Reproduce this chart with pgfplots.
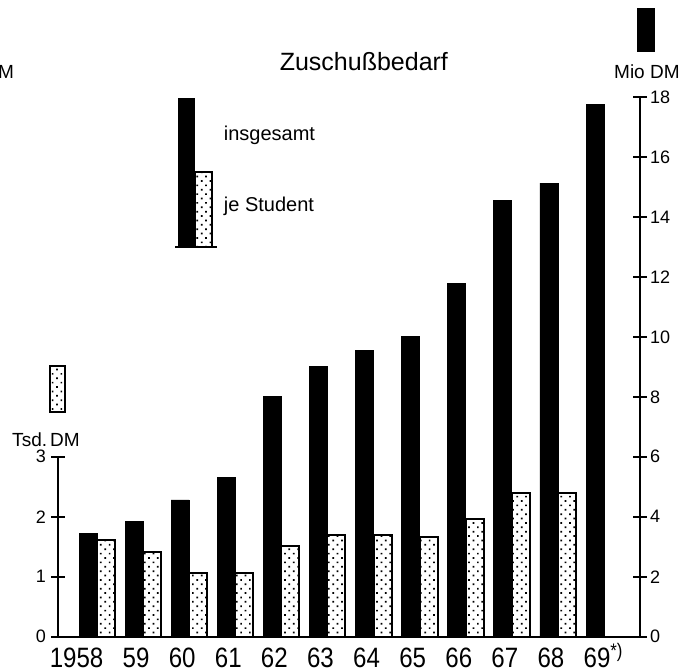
\documentclass[border=0pt]{standalone}
\usepackage{fontspec}
\setmainfont{Liberation Sans}
\newfontfamily\condfont[FakeStretch=0.86]{Liberation Sans}
\usepackage{pgfplots}
\usepackage{pgfplotstable}
\pgfplotsset{compat=1.18}
\usetikzlibrary{patterns.meta}

% Zuschussbedarf insgesamt (Mio DM)
\pgfplotstableread{
idx mio
0  3.45
1  3.84
2  4.56
3  5.32
4  8.00
5  9.02
6  9.56
7  10.01
8  11.77
9  14.55
10 15.13
11 17.75
}\insgesamt

% Zuschussbedarf je Student (Tsd. DM)
\pgfplotstableread{
idx tsd
0  1.62
1  1.41
2  1.07
3  1.06
4  1.52
5  1.69
6  1.70
7  1.66
8  1.97
9  2.40
10 2.40
}\jestudent

\begin{document}
\begin{tikzpicture}
\pgfplotsset{
  common/.style={
    scale only axis, width=291pt,
    xmin=-0.846, xmax=11.78, ymin=0,
    at={(0,0)}, anchor=south west,
    /pgf/number format/assume math mode=true,
    tick align=center, major tick length=7pt,
    every tick/.style={black, line width=0.9pt},
    axis line style={black, line width=1pt},
    ybar, bar width=0.39, clip=false,
    yticklabel style={font=\fontsize{9}{9}\selectfont},
  }
}
\begin{axis}[common, height=269.85pt, ymax=18,
  axis y line*=right, axis x line*=bottom,
  ytick={0,2,...,18},
  xtick={0,...,11},
  xticklabels={\llap{19}58,59,60,61,62,63,64,65,66,67,68,69\rlap{\smash{\textsuperscript{*)}}}},
  x tick style={draw=none},
  xticklabel style={font=\condfont\fontsize{14}{14}\selectfont,
    text height=10pt, text depth=0pt, xshift=-3.5pt, yshift=5pt},
  yticklabel style={xshift=-2pt},
]
\addplot[fill=black, draw=black, bar shift=-0.195] table[x=idx, y=mio] {\insgesamt};

% title and unit labels
\node[font=\fontsize{12.5}{13}\selectfont] at (axis cs:5.79,19.17) {Zuschußbedarf};
\node[font=\fontsize{9.5}{10}\selectfont] at (axis cs:11.93,18.84) {Mio DM};
\node[font=\fontsize{9.5}{10}\selectfont] at (axis cs:-1.974,18.84) {M};
\node[font=\fontsize{9.5}{10}\selectfont] at (axis cs:-1.106,6.58) {Tsd.\,DM};

% legend
\fill (axis cs:1.757,13.0) rectangle (axis cs:2.126,17.96);
\draw[line width=1pt, pattern={Dots[radius=0.6pt, distance=3.1pt, angle=45]}]
  (axis cs:2.126,13.0) rectangle (axis cs:2.495,15.51);
\draw[line width=1pt] (axis cs:1.70,13.0) -- (axis cs:2.60,13.0);
\node[anchor=west, font=\fontsize{10}{11}\selectfont] at (axis cs:2.60,16.73) {insgesamt};
\node[anchor=west, font=\fontsize{10}{11}\selectfont] at (axis cs:2.60,14.34) {je Student};

% small key bars beside the unit labels
\fill (axis cs:11.71,19.5) rectangle (axis cs:12.10,20.97);
\draw[line width=1pt, pattern={Dots[radius=0.6pt, distance=3.1pt, angle=45]}]
  (axis cs:-1.02,7.49) rectangle (axis cs:-0.694,9.03);
\end{axis}

\begin{axis}[common, height=89.95pt, ymax=3,
  axis y line*=left, axis x line=none,
  ytick={0,1,2,3},
  yticklabel style={xshift=1pt},
]
\addplot[draw=black, line width=1pt,
  pattern={Dots[radius=0.6pt, distance=3.1pt, angle=45]},
  bar shift=0.195] table[x=idx, y=tsd] {\jestudent};
\end{axis}

\pgfresetboundingbox
\path[use as bounding box] (-29pt,-17.65pt) rectangle (317pt,318.35pt);
\end{tikzpicture}
\end{document}
